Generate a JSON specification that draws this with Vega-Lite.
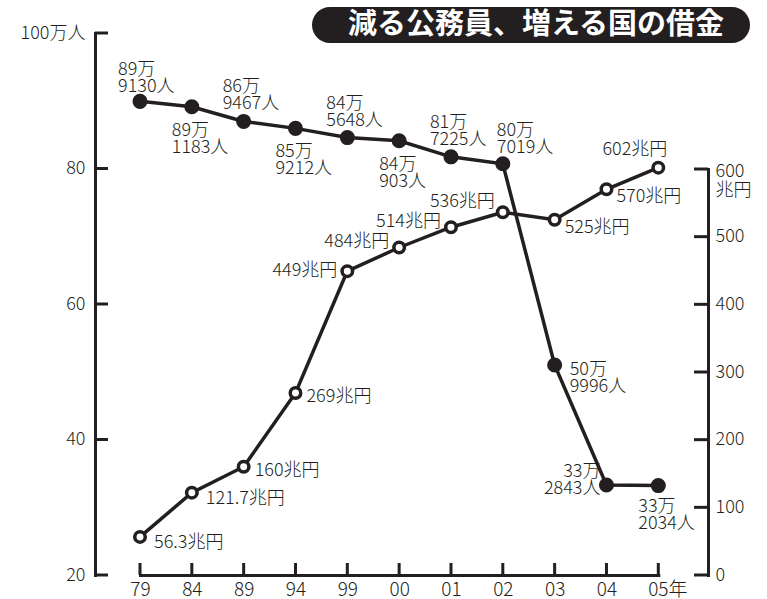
{
  "$schema": "https://vega.github.io/schema/vega-lite/v6.json",
  "width": 613,
  "height": 542,
  "autosize": {"type": "none"},
  "padding": {"left": 95, "top": 33, "right": 59, "bottom": 24},
  "background": "white",
  "config": {
    "view": {"stroke": null},
    "font": "Noto Sans CJK JP",
    "axis": {
      "title": null,
      "ticks": false,
      "tickSize": 0,
      "grid": false,
      "domainColor": "#231f20",
      "domainWidth": 3,
      "domainCap": "square",
      "labelColor": "#231f20",
      "labelFont": "Noto Sans CJK JP",
      "labelFontWeight": 300,
      "labelOverlap": false,
      "labelFlush": false,
      "labelBound": false
    },
    "text": {"font": "Noto Sans CJK JP", "fontSize": 18, "fontWeight": 300, "color": "#231f20", "lineHeight": 17, "lineBreak": "\n"}
  },
  "datasets": {
    "d": [
      {"year": "79", "emp": 89.913, "emp_label": "89万\n9130人", "debt": 56.3, "debt_label": "56.3兆円"},
      {"year": "84", "emp": 89.1183, "emp_label": "89万\n1183人", "debt": 121.7, "debt_label": "121.7兆円"},
      {"year": "89", "emp": 86.9467, "emp_label": "86万\n9467人", "debt": 160, "debt_label": "160兆円"},
      {"year": "94", "emp": 85.9212, "emp_label": "85万\n9212人", "debt": 269, "debt_label": "269兆円"},
      {"year": "99", "emp": 84.5648, "emp_label": "84万\n5648人", "debt": 449, "debt_label": "449兆円"},
      {"year": "00", "emp": 84.0903, "emp_label": "84万\n903人", "debt": 484, "debt_label": "484兆円"},
      {"year": "01", "emp": 81.7225, "emp_label": "81万\n7225人", "debt": 514, "debt_label": "514兆円"},
      {"year": "02", "emp": 80.7019, "emp_label": "80万\n7019人", "debt": 536, "debt_label": "536兆円"},
      {"year": "03", "emp": 50.9996, "emp_label": "50万\n9996人", "debt": 525, "debt_label": "525兆円"},
      {"year": "04", "emp": 33.2843, "emp_label": "33万\n2843人", "debt": 570, "debt_label": "570兆円"},
      {"year": "05", "emp": 33.2034, "emp_label": "33万\n2034人", "debt": 602, "debt_label": "602兆円"}
    ],
    "left_ticks": [{"tick": 20}, {"tick": 40}, {"tick": 60}, {"tick": 80}, {"tick": 100}],
    "right_ticks": [{"tick": 0}, {"tick": 100}, {"tick": 200}, {"tick": 300}, {"tick": 400}, {"tick": 500}, {"tick": 600}],
    "t": [{"title": "減る公務員、増える国の借金"}]
  },
  "layer": [
    {
      "data": {"name": "d"},
      "encoding": {
        "x": {
          "field": "year", "type": "ordinal", "sort": null,
          "scale": {"type": "point", "range": [45, 563.3], "padding": 0},
          "axis": {
            "orient": "bottom",
            "labelFontSize": 19,
            "labelPadding": 5,
            "labelAngle": 0,
            "labelExpr": "datum.value == '05' ? '05年' : datum.label",
            "labelOffset": {"condition": {"test": "datum.value == '05'", "value": 9}, "value": 0}
          }
        },
        "y": {
          "field": "debt", "type": "quantitative",
          "scale": {"domain": [0, 600], "range": [542, 136], "nice": false, "zero": true},
          "axis": {
            "orient": "right",
            "values": [0, 100, 200, 300, 400, 500, 600],
            "labelPadding": 7,
            "labelFontSize": 18,
            "labelLineHeight": 19,
            "labelExpr": "datum.value == 600 ? ['600', '兆円'] : datum.label",
            "labelBaseline": {"condition": {"test": "datum.value == 600", "value": "top"}, "value": "middle"},
            "labelOffset": {"condition": {"test": "datum.value == 600", "value": -7}, "value": 0}
          }
        }
      },
      "layer": [
        {"mark": {"type": "line", "color": "#231f20", "strokeWidth": 3.5}},
        {"mark": {"type": "point", "shape": "circle", "filled": true, "fill": "white", "stroke": "#231f20", "strokeWidth": 3.5, "size": 110, "opacity": 1}},
        {"transform": [{"filter": "indexof(['79','84'], datum.year) >= 0"}], "mark": {"type": "text", "align": "left", "baseline": "middle", "dx": 14, "dy": 6}, "encoding": {"text": {"field": "debt_label"}}},
        {"transform": [{"filter": "indexof(['89','94'], datum.year) >= 0"}], "mark": {"type": "text", "align": "left", "baseline": "middle", "dx": 11, "dy": 4}, "encoding": {"text": {"field": "debt_label"}}},
        {"transform": [{"filter": "indexof(['03','04'], datum.year) >= 0"}], "mark": {"type": "text", "align": "left", "baseline": "middle", "dx": 10, "dy": 8}, "encoding": {"text": {"field": "debt_label"}}},
        {"transform": [{"filter": "datum.year == '99'"}], "mark": {"type": "text", "align": "right", "baseline": "middle", "dx": -10, "dy": 0}, "encoding": {"text": {"field": "debt_label"}}},
        {"transform": [{"filter": "indexof(['00','01'], datum.year) >= 0"}], "mark": {"type": "text", "align": "right", "baseline": "middle", "dx": -10, "dy": -5}, "encoding": {"text": {"field": "debt_label"}}},
        {"transform": [{"filter": "datum.year == '02'"}], "mark": {"type": "text", "align": "right", "baseline": "middle", "dx": -8, "dy": -10}, "encoding": {"text": {"field": "debt_label"}}},
        {"transform": [{"filter": "datum.year == '05'"}], "mark": {"type": "text", "align": "right", "baseline": "middle", "dx": 9, "dy": -18}, "encoding": {"text": {"field": "debt_label"}}}
      ]
    },
    {
      "data": {"name": "d"},
      "encoding": {
        "x": {
          "field": "year", "type": "ordinal", "sort": null,
          "scale": {"type": "point", "range": [45, 563.3], "padding": 0},
          "axis": {
            "orient": "bottom",
            "labelFontSize": 19,
            "labelPadding": 5,
            "labelAngle": 0,
            "labelExpr": "datum.value == '05' ? '05年' : datum.label",
            "labelOffset": {"condition": {"test": "datum.value == '05'", "value": 9}, "value": 0}
          }
        },
        "y": {
          "field": "emp", "type": "quantitative",
          "scale": {"domain": [20, 100], "nice": false, "zero": false},
          "axis": {
            "orient": "left",
            "values": [20, 40, 60, 80, 100],
            "labelPadding": 10,
            "labelFontSize": 18,
            "labelExpr": "datum.value == 100 ? '100万人' : datum.label"
          }
        }
      },
      "layer": [
        {"mark": {"type": "line", "color": "#231f20", "strokeWidth": 3.5}},
        {"mark": {"type": "point", "shape": "circle", "filled": true, "fill": "#231f20", "stroke": "#231f20", "strokeWidth": 0, "size": 227, "opacity": 1}},
        {"transform": [{"filter": "datum.year == '79'"}], "mark": {"type": "text", "align": "left", "baseline": "bottom", "dx": -22, "dy": -22}, "encoding": {"text": {"field": "emp_label"}}},
        {"transform": [{"filter": "indexof(['89','99','01'], datum.year) >= 0"}], "mark": {"type": "text", "align": "left", "baseline": "bottom", "dx": -21, "dy": -25}, "encoding": {"text": {"field": "emp_label"}}},
        {"transform": [{"filter": "datum.year == '02'"}], "mark": {"type": "text", "align": "left", "baseline": "bottom", "dx": -6, "dy": -24}, "encoding": {"text": {"field": "emp_label"}}},
        {"transform": [{"filter": "indexof(['84','94','00'], datum.year) >= 0"}], "mark": {"type": "text", "align": "left", "baseline": "top", "dx": -20, "dy": 15}, "encoding": {"text": {"field": "emp_label"}}},
        {"transform": [{"filter": "datum.year == '05'"}], "mark": {"type": "text", "align": "left", "baseline": "top", "dx": -20, "dy": 12}, "encoding": {"text": {"field": "emp_label"}}},
        {"transform": [{"filter": "datum.year == '03'"}], "mark": {"type": "text", "align": "left", "baseline": "top", "dx": 15, "dy": -4}, "encoding": {"text": {"field": "emp_label"}}},
        {"transform": [{"filter": "datum.year == '04'"}], "mark": {"type": "text", "align": "right", "baseline": "bottom", "dx": -6, "dy": -4}, "encoding": {"text": {"field": "emp_label"}}}
      ]
    },
    {
      "data": {"name": "t"},
      "layer": [
        {"mark": {"type": "rect", "color": "#231f20", "cornerRadius": 18}, "encoding": {"x": {"value": 217}, "x2": {"value": 655}, "y": {"value": -26}, "y2": {"value": 10}}},
        {"mark": {"type": "text", "color": "white", "fontSize": 29, "fontWeight": "bold", "align": "center", "baseline": "middle"}, "encoding": {"x": {"value": 441}, "y": {"value": -8}, "text": {"field": "title"}}}
      ]
    },
    {
      "data": {"name": "left_ticks"},
      "mark": {"type": "rect", "color": "#231f20", "opacity": 1, "height": 3, "width": 13, "xOffset": 6.5},
      "encoding": {
        "y": {"field": "tick", "type": "quantitative", "scale": {"domain": [20, 100], "nice": false, "zero": false}, "axis": null},
        "x": {"value": 0}
      }
    },
    {
      "data": {"name": "right_ticks"},
      "mark": {"type": "rect", "color": "#231f20", "opacity": 1, "height": 3, "width": 14, "xOffset": -7},
      "encoding": {
        "y": {"field": "tick", "type": "quantitative", "scale": {"domain": [0, 600], "range": [542, 136], "nice": false, "zero": true}, "axis": null},
        "x": {"value": 613}
      }
    },
    {
      "data": {"name": "d"},
      "mark": {"type": "rect", "color": "#231f20", "opacity": 1, "width": 3, "height": 12, "yOffset": -6},
      "encoding": {
        "x": {
          "field": "year", "type": "ordinal", "sort": null,
          "scale": {"type": "point", "range": [45, 563.3], "padding": 0},
          "axis": {
            "orient": "bottom",
            "labelFontSize": 19,
            "labelPadding": 5,
            "labelAngle": 0,
            "labelExpr": "datum.value == '05' ? '05年' : datum.label",
            "labelOffset": {"condition": {"test": "datum.value == '05'", "value": 9}, "value": 0}
          }
        },
        "y": {"value": 542}
      }
    }
  ],
  "resolve": {"scale": {"y": "independent"}}
}
